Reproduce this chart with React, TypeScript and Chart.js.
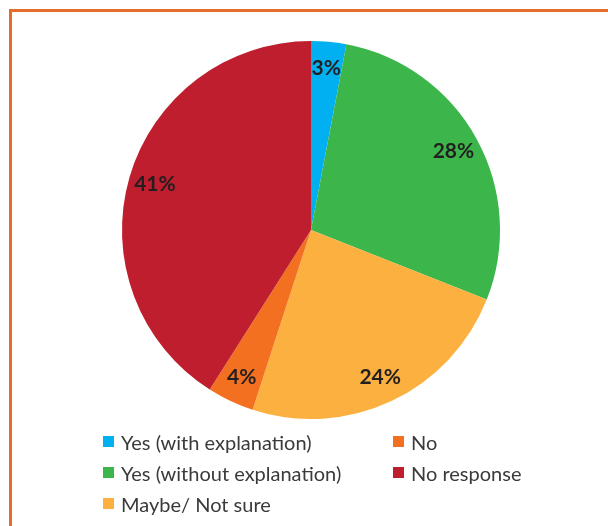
import React, { useEffect, useRef } from "react";
import { Chart, registerables } from "chart.js";

Chart.register(...registerables);

const categories = [
  "Yes (with explanation)",
  "Yes (without explanation)",
  "Maybe/ Not sure",
  "No",
  "No response",
];
const values = [3, 28, 24, 4, 41];
const colors = ["#00B0F0", "#3CB64B", "#FBB040", "#F37021", "#BE1E2D"];

const labelPlugin = {
  id: "sliceLabels",
  afterDatasetsDraw(chart: any) {
    const ctx = chart.ctx;
    const meta = chart.getDatasetMeta(0);
    const data = chart.data.datasets[0].data as number[];
    const total = data.reduce((a, b) => a + b, 0);
    ctx.save();
    ctx.font = "bold 21px Lato";
    ctx.fillStyle = "#231F20";
    ctx.textAlign = "center";
    ctx.textBaseline = "middle";
    meta.data.forEach((arc: any, i: number) => {
      const p = arc.getProps(["x", "y", "startAngle", "endAngle", "outerRadius"], true);
      const mid = (p.startAngle + p.endAngle) / 2;
      const r = p.outerRadius * 0.86;
      const x = p.x + Math.cos(mid) * r;
      const y = p.y + Math.sin(mid) * r;
      ctx.fillText(Math.round((data[i] / total) * 100) + "%", x, y);
    });
    ctx.restore();
  },
};

export default function App() {
  const ref = useRef<HTMLCanvasElement | null>(null);
  useEffect(() => {
    if (!ref.current) return;
    const chart = new Chart(ref.current, {
      type: "pie",
      data: {
        labels: categories,
        datasets: [
          {
            data: values,
            backgroundColor: colors,
            borderWidth: 0,
          },
        ],
      },
      options: {
        responsive: false,
        animation: false,
        layout: { padding: { left: 122, top: 41, right: 108, bottom: 107 } },
        plugins: {
          legend: { display: false },
          tooltip: { enabled: false },
        },
      },
      plugins: [labelPlugin],
    });
    return () => chart.destroy();
  }, []);

  const legendOrder = [0, 1, 2, 3, 4];
  return (
    <div
      style={{
        position: "fixed",
        left: 0,
        top: 0,
        width: 608,
        height: 526,
        overflow: "hidden",
        background: "#ffffff",
      }}
    >
      <div
        style={{
          position: "absolute",
          left: 9,
          top: 9,
          width: 700,
          height: 700,
          border: "3px solid #E66C2C",
          boxSizing: "border-box",
        }}
      />
      <canvas
        ref={ref}
        width={608}
        height={526}
        style={{ position: "absolute", left: 0, top: 0, width: 608, height: 526 }}
      />
      <div
        style={{
          position: "absolute",
          left: 103,
          top: 426,
          display: "grid",
          gridTemplateColumns: "290px 200px",
          gridTemplateRows: "31px 31px 31px",
          gridAutoFlow: "column",
          fontFamily: "Lato",
          fontSize: 20,
          color: "#3A3A3A",
        }}
      >
        {legendOrder.map((i) => (
          <div key={i} style={{ display: "flex", alignItems: "center", whiteSpace: "nowrap" }}>
            <span
              style={{
                display: "inline-block",
                width: 11,
                height: 11,
                background: colors[i],
                marginRight: 7,
              }}
            />
            <span>{categories[i]}</span>
          </div>
        ))}
      </div>
    </div>
  );
}
